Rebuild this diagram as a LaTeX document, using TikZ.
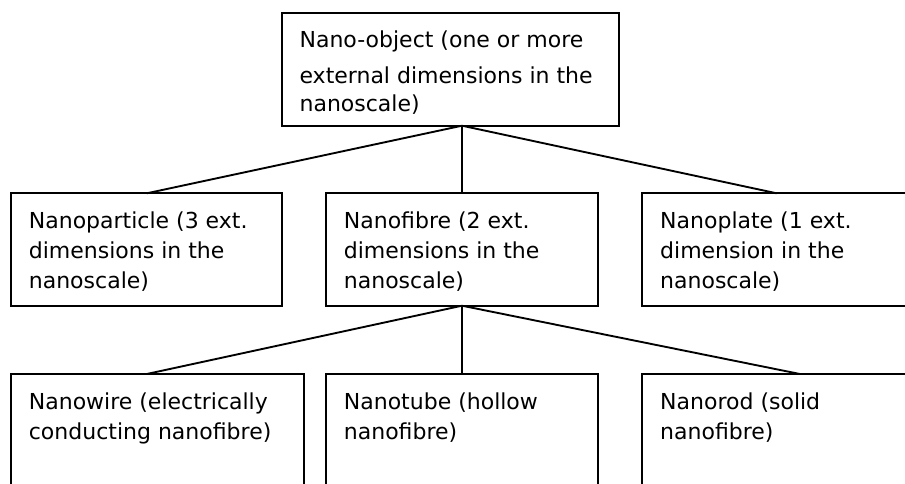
\documentclass[tikz,border=0pt]{standalone}
\usepackage{fontspec}
\setmainfont{DejaVu Sans}
\begin{document}
\begin{tikzpicture}[x=0.75pt,y=-0.75pt,
  box/.style={draw, line width=1.4pt, inner sep=0pt, outer sep=0pt, anchor=north west},
  txt/.style={anchor=north west, inner sep=0pt, align=left, xshift=13.2pt, yshift=-10.5pt,
    font=\fontsize{16.5}{22.5}\selectfont},
  link/.style={line width=1.4pt}]
\useasboundingbox (0,0) rectangle (905,483);
\clip (0,0) rectangle (905,483);
\fill[white] (0,0) rectangle (905,483);
% top
\node[box, minimum width={337.6*0.75pt}, minimum height={113*0.75pt},
  label={[txt]north west:{\strut Nano-object (one or more\\[4.2pt] external dimensions in the\\[-1.2pt] nanoscale)}}]
  (top) at (281.7,12.7) {};
% middle row
\node[box, minimum width={270.7*0.75pt}, minimum height={112.4*0.75pt},
  label={[txt]north west:{\strut Nanoparticle (3 ext.\\ dimensions in the\\ nanoscale)}}]
  (particle) at (11,193.3) {};
\node[box, minimum width={271.7*0.75pt}, minimum height={112.4*0.75pt},
  label={[txt]north west:{\strut Nanofibre (2 ext.\\ dimensions in the\\ nanoscale)}}]
  (fibre) at (326,193.3) {};
\node[box, minimum width={300*0.75pt}, minimum height={112.4*0.75pt},
  label={[txt]north west:{\strut Nanoplate (1 ext.\\ dimension in the\\ nanoscale)}}]
  (plate) at (642.3,193.3) {};
% bottom row
\node[box, minimum width={293.3*0.75pt}, minimum height={140*0.75pt},
  label={[txt]north west:{\strut Nanowire (electrically\\ conducting nanofibre)}}]
  (wire) at (11,374) {};
\node[box, minimum width={271.7*0.75pt}, minimum height={140*0.75pt},
  label={[txt]north west:{\strut Nanotube (hollow\\ nanofibre)}}]
  (tube) at (326,374) {};
\node[box, minimum width={300*0.75pt}, minimum height={140*0.75pt},
  label={[txt]north west:{\strut Nanorod (solid\\ nanofibre)}}]
  (rod) at (642.3,374) {};
% connectors
\coordinate (topj) at (462,0 |- top.south);
\coordinate (fibj) at (462,0 |- fibre.south);
\draw[link] (topj) -- (146.7,0 |- particle.north);
\draw[link] (topj) -- (462,0 |- fibre.north);
\draw[link] (topj) -- (776.7,0 |- plate.north);
\draw[link] (fibj) -- (146.7,0 |- wire.north);
\draw[link] (fibj) -- (462,0 |- tube.north);
\draw[link] (fibj) -- (800,0 |- rod.north);
\end{tikzpicture}
\end{document}
